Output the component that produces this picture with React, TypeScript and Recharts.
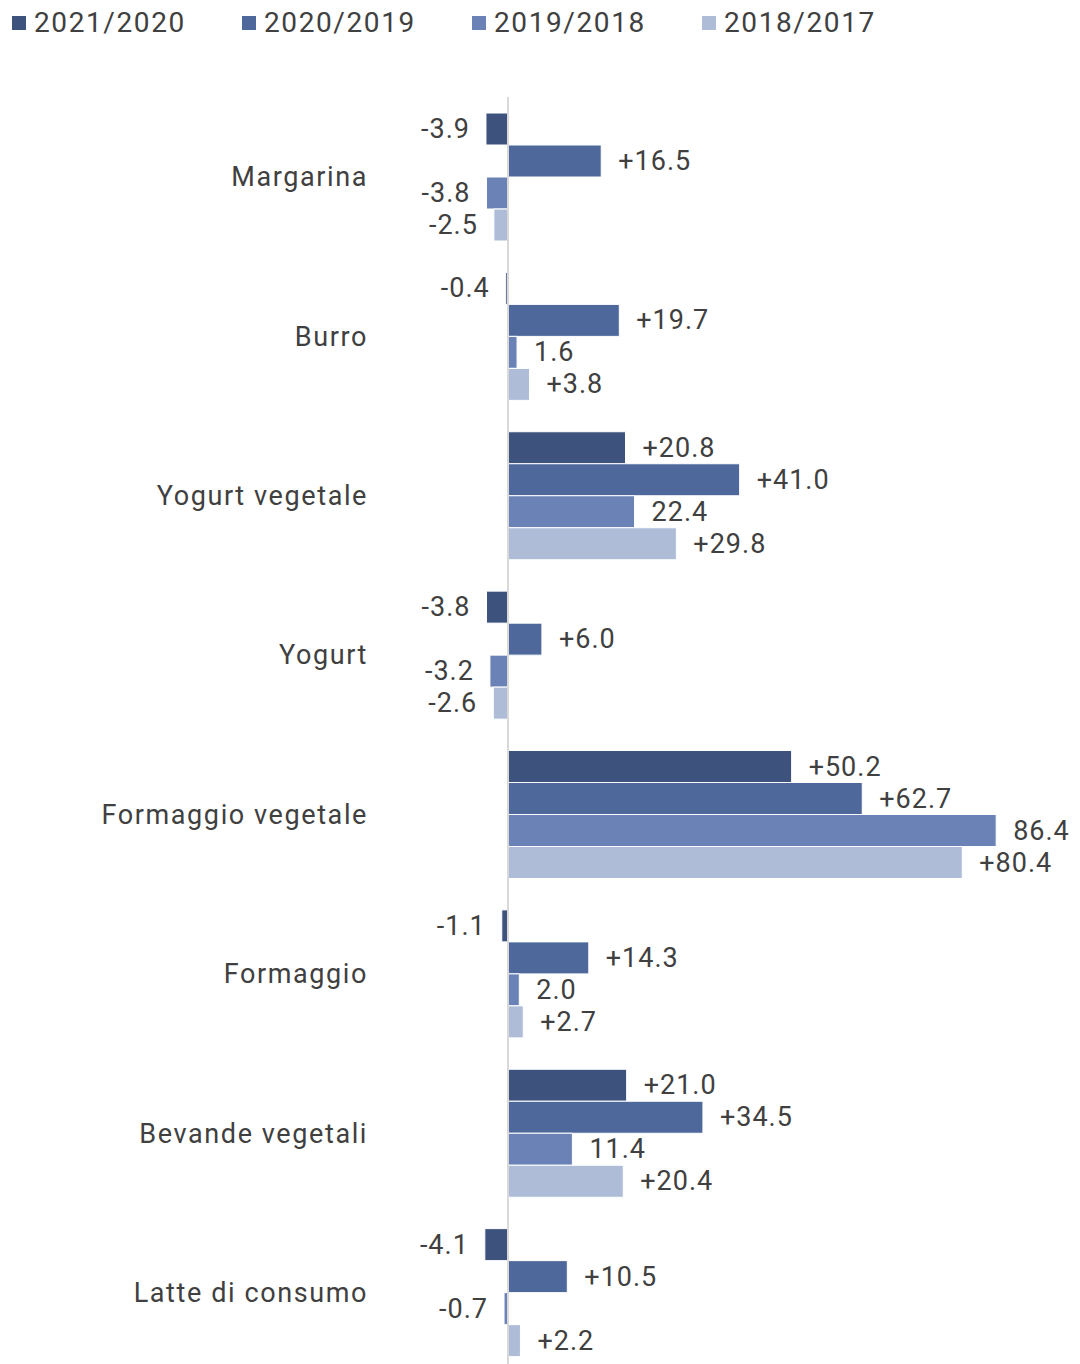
import React from 'react';
import { BarChart, Bar, XAxis, YAxis, Legend, ReferenceLine, LabelList } from 'recharts';

const categories = ['Margarina', 'Burro', 'Yogurt vegetale', 'Yogurt', 'Formaggio vegetale', 'Formaggio', 'Bevande vegetali', 'Latte di consumo'];
const s2021 = [-3.9, -0.4, 20.8, -3.8, 50.2, -1.1, 21.0, -4.1];
const s2020 = [16.5, 19.7, 41.0, 6.0, 62.7, 14.3, 34.5, 10.5];
const s2019 = [-3.8, 1.6, 22.4, -3.2, 86.4, 2.0, 11.4, -0.7];
const s2018 = [-2.5, 3.8, 29.8, -2.6, 80.4, 2.7, 20.4, 2.2];

const seriesNames = ['2021/2020', '2020/2019', '2019/2018', '2018/2017'];
const seriesKeys = ['a', 'b', 'c', 'd'];
const colors = ['#3E527E', '#4E689C', '#6A82B5', '#AEBCD8'];
const plusSign = [true, true, false, true];

const data = categories.map((c, i) => ({ name: c, a: s2021[i], b: s2020[i], c: s2019[i], d: s2018[i] }));

const FONT = 'Roboto, "Noto Sans", sans-serif';
const TXT = '#404040';

const makeLabel = (withPlus: boolean) => (props: any) => {
  const { x, y, width, height, value } = props;
  const x0 = Number(x);
  const w = Number(width);
  const v = Number(value);
  const cy = Number(y) + Number(height) / 2;
  const str = (v > 0 && withPlus ? '+' : '') + v.toFixed(1);
  if (v < 0) {
    const end = Math.min(x0, x0 + w);
    return (
      <text x={end - 16} y={cy} textAnchor="end" dominantBaseline="central" fontSize={27} letterSpacing={1} fill={TXT} fontFamily={FONT}>
        {str}
      </text>
    );
  }
  const end = Math.max(x0, x0 + w);
  return (
    <text x={end + 17} y={cy} textAnchor="start" dominantBaseline="central" fontSize={27} letterSpacing={1} fill={TXT} fontFamily={FONT}>
      {str}
    </text>
  );
};

const LegendContent = () => (
  <div style={{ height: 89, position: 'relative', fontFamily: FONT }}>
    {seriesNames.map((n, i) => (
      <div key={n} style={{ position: 'absolute', left: 4 + i * 230, top: 0, display: 'flex', alignItems: 'center', height: 30 }}>
        <div style={{ width: 14, height: 14, background: colors[i], marginRight: 8 }} />
        <span style={{ fontSize: 28, color: TXT, letterSpacing: 1.6, lineHeight: '30px' }}>{n}</span>
      </div>
    ))}
  </div>
);

export default function App() {
  return (
    <div style={{ width: 1072, height: 1380 }}>
      <BarChart
        width={1072}
        height={1380}
        data={data}
        layout="vertical"
        margin={{ top: 0, right: 7, bottom: 16, left: 0 }}
        barGap={0}
        barSize={32}
      >
        <Legend verticalAlign="top" align="left" wrapperStyle={{ top: 0, left: 0, width: 1072 }} content={<LegendContent />} />
        <XAxis type="number" domain={[-20, 100]} hide />
        <YAxis
          type="category"
          dataKey="name"
          width={387}
          axisLine={false}
          tickLine={false}
          tickSize={0}
          tickMargin={27}
          tick={{ fontSize: 27, fill: TXT, fontFamily: FONT, letterSpacing: 1.6 }}
        />
        {seriesKeys.map((k, i) => (
          <Bar key={k} dataKey={k} name={seriesNames[i]} fill={colors[i]} stroke="#ffffff" strokeWidth={1} isAnimationActive={false}>
            <LabelList dataKey={k} content={makeLabel(plusSign[i])} />
          </Bar>
        ))}
        <ReferenceLine x={0} stroke="#D9D9D9" strokeWidth={2} />
      </BarChart>
    </div>
  );
}
